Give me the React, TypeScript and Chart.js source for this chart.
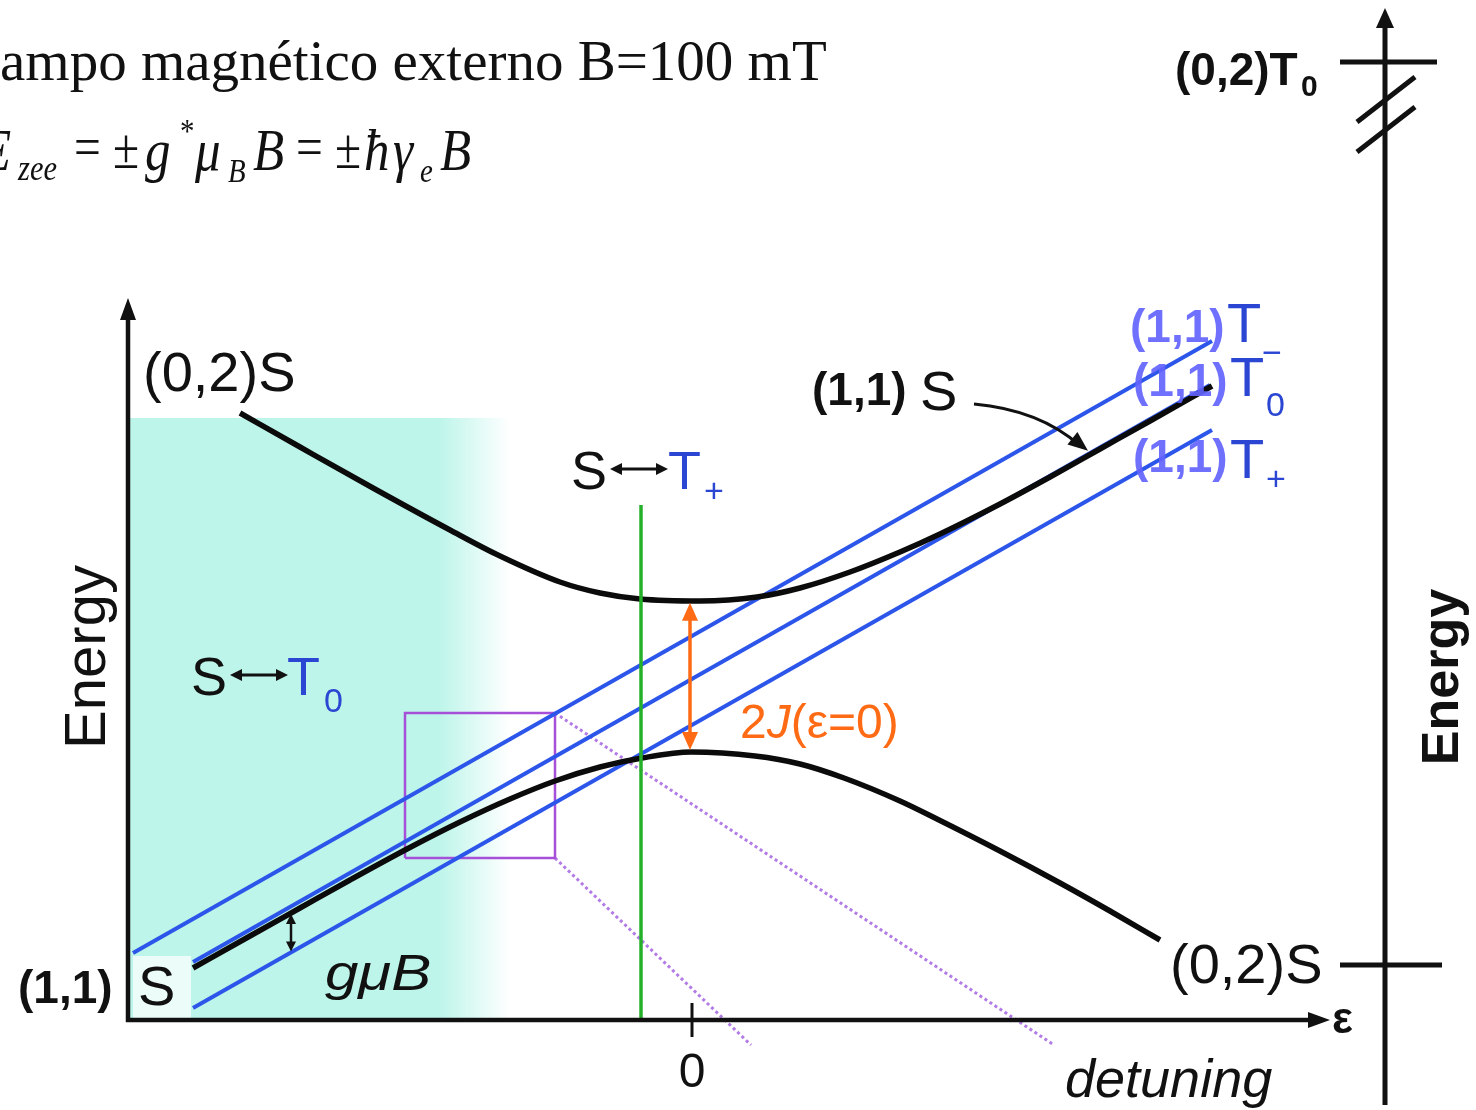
import React, { useEffect, useRef } from "react";
import { Chart, registerables } from "chart.js";

Chart.register(...registerables);

// ---------- data (x = detuning ε, y = energy E, arbitrary units) ----------
const upperBranch: number[][] = [
  [-4.52, 6.07], [-3.92, 5.73], [-3.19, 5.32], [-2.42, 4.90], [-1.92, 4.64],
  [-1.32, 4.38], [-0.92, 4.27], [-0.52, 4.21], [0.08, 4.19], [0.65, 4.23],
  [1.08, 4.32], [1.58, 4.48], [2.08, 4.68], [2.48, 4.86], [3.08, 5.16],
  [3.58, 5.43], [4.08, 5.71], [4.58, 5.99], [5.20, 6.34],
];
const lowerBranch: number[][] = [
  [-4.99, 0.52], [-4.42, 0.84], [-3.92, 1.12], [-3.42, 1.40], [-2.85, 1.71],
  [-2.32, 1.98], [-1.82, 2.21], [-1.37, 2.39], [-0.92, 2.53], [-0.50, 2.62],
  [-0.01, 2.68], [0.63, 2.64], [1.08, 2.56], [1.52, 2.42], [2.08, 2.19],
  [2.45, 2.01], [3.08, 1.69], [3.68, 1.37], [4.18, 1.09], [4.68, 0.80],
];
const tripletMinus: number[][] = [[-5.59, 0.67], [5.20, 6.79]];
const tripletZero: number[][] = [[-4.99, 0.58], [5.18, 6.35]];
const tripletPlus: number[][] = [[-4.99, 0.12], [5.20, 5.90]];
const stPlusResonance: number[][] = [[-0.51, 0], [-0.51, 5.15]];
const zoomBox: number[][] = [[-2.87, 1.62], [-1.37, 1.62], [-1.37, 3.07], [-2.87, 3.07], [-2.87, 1.62]];
const zoomRayUpper: number[][] = [[-1.37, 3.07], [3.62, -0.25]];
const zoomRayLower: number[][] = [[-1.37, 1.62], [0.59, -0.25]];

const xRange = [-6.92, 7.84];
const yRange = [-0.90, 10.20];
const mainAxisEps = [-5.64, 6.38];
const mainAxisTopE = 7.22;
const shadeEps = [-5.62, -2.52, -1.82];
const shadeTopE = 6.02;
const jEps = -0.02;
const gmuBEps = -4.01;
const labelArrowEps = 3.96;
const rightAxisEps = 6.93;
const rightAxisE = [-0.85, 10.12];
const rightLevelE = [9.58, 0.55];
const rightLevelEps: number[][] = [[6.48, 7.45], [6.48, 7.50]];
const breakMarks: number[][][] = [
  [[6.65, 8.98], [7.23, 9.43]],
  [[6.65, 8.68], [7.23, 9.13]],
];
const tickValues = [0];

// ---------- styles ----------
const SANS = '"Liberation Sans", Arial, Helvetica, sans-serif';
const SERIF = '"Liberation Serif", "Times New Roman", serif';
const INK = "#111111";
const TBLUE = "#2a46d2";
const PERI = "rgba(100,100,255,0.92)";
const ORANGE = "#ff6a14";
const LINEBLUE = "#2c55ea";
const GREEN = "#25b02a";
const PURPLE = "#a64fd8";
const CYAN = "190,245,234";

const pts = (a: number[][]) => a.map(([x, y]) => ({ x, y }));

function interp(arr: number[][], e: number) {
  for (let i = 0; i < arr.length - 1; i++) {
    const [x0, y0] = arr[i];
    const [x1, y1] = arr[i + 1];
    if (e >= x0 && e <= x1) return y0 + ((y1 - y0) * (e - x0)) / (x1 - x0);
  }
  return e < arr[0][0] ? arr[0][1] : arr[arr.length - 1][1];
}

function seg(ctx: CanvasRenderingContext2D, x1: number, y1: number, x2: number, y2: number, w: number, c: string) {
  ctx.beginPath();
  ctx.moveTo(x1, y1);
  ctx.lineTo(x2, y2);
  ctx.lineWidth = w;
  ctx.strokeStyle = c;
  ctx.stroke();
}

function head(ctx: CanvasRenderingContext2D, tx: number, ty: number, fx: number, fy: number, len: number, half: number, c: string) {
  const a = Math.atan2(ty - fy, tx - fx);
  const bx = tx - len * Math.cos(a);
  const by = ty - len * Math.sin(a);
  ctx.beginPath();
  ctx.moveTo(tx, ty);
  ctx.lineTo(bx + half * Math.sin(a), by - half * Math.cos(a));
  ctx.lineTo(bx - half * Math.sin(a), by + half * Math.cos(a));
  ctx.closePath();
  ctx.fillStyle = c;
  ctx.fill();
}

function dbl(ctx: CanvasRenderingContext2D, x1: number, y1: number, x2: number, y2: number, w: number, len: number, half: number, c: string) {
  const a = Math.atan2(y2 - y1, x2 - x1);
  seg(ctx, x1 + (len - 1) * Math.cos(a), y1 + (len - 1) * Math.sin(a), x2 - (len - 1) * Math.cos(a), y2 - (len - 1) * Math.sin(a), w, c);
  head(ctx, x1, y1, x2, y2, len, half, c);
  head(ctx, x2, y2, x1, y1, len, half, c);
}

function txt(ctx: CanvasRenderingContext2D, s: string, x: number, y: number, font: string, color: string, align: CanvasTextAlign = "left", sx = 1) {
  ctx.save();
  ctx.font = font;
  ctx.fillStyle = color;
  ctx.textAlign = align;
  ctx.textBaseline = "alphabetic";
  ctx.translate(x, y);
  ctx.scale(sx, 1);
  ctx.fillText(s, 0, 0);
  ctx.restore();
}

function vtxt(ctx: CanvasRenderingContext2D, s: string, x: number, y: number, font: string, color: string) {
  ctx.save();
  ctx.translate(x, y);
  ctx.rotate(-Math.PI / 2);
  txt(ctx, s, 0, 0, font, color, "center");
  ctx.restore();
}

const diagramPlugin = {
  id: "diagram",
  beforeDatasetsDraw(chart: any) {
    const ctx: CanvasRenderingContext2D = chart.ctx;
    const X = (v: number) => chart.scales.x.getPixelForValue(v);
    const Y = (v: number) => chart.scales.y.getPixelForValue(v);
    ctx.save();
    const x0 = X(shadeEps[0]);
    const x1 = X(shadeEps[1]);
    const xf = X(shadeEps[2]);
    const g = ctx.createLinearGradient(x0, 0, xf, 0);
    g.addColorStop(0, `rgb(${CYAN})`);
    g.addColorStop((x1 - x0) / (xf - x0), `rgb(${CYAN})`);
    g.addColorStop(1, `rgba(${CYAN},0)`);
    ctx.fillStyle = g;
    ctx.fillRect(x0, Y(shadeTopE), xf - x0, Y(0) - Y(shadeTopE));
    // pale patch behind the lower-left "S"
    ctx.fillStyle = "rgba(255,255,255,0.7)";
    ctx.fillRect(x0 + 3, Y(0) - 64, 58, 62);
    ctx.restore();
  },
  afterDatasetsDraw(chart: any) {
    const ctx: CanvasRenderingContext2D = chart.ctx;
    const X = (v: number) => chart.scales.x.getPixelForValue(v);
    const Y = (v: number) => chart.scales.y.getPixelForValue(v);
    ctx.save();
    ctx.lineCap = "butt";

    // main axes
    const ax = X(mainAxisEps[0]);
    const ay = Y(0);
    const axR = X(mainAxisEps[1]);
    const ayT = Y(mainAxisTopE);
    seg(ctx, ax, ay + 2, ax, ayT + 18, 4.5, INK);
    head(ctx, ax, ayT, ax, ay, 22, 8, INK);
    seg(ctx, ax - 2, ay, axR - 18, ay, 4.5, INK);
    head(ctx, axR, ay, ax, ay, 22, 8, INK);
    tickValues.forEach((t) => {
      seg(ctx, X(t), ay - 17, X(t), ay + 17, 3, INK);
      txt(ctx, String(t), X(t), ay + 67, `48px ${SANS}`, INK, "center");
    });
    txt(ctx, "ε", axR + 2, ay + 13, `bold 44px ${SANS}`, INK);
    txt(ctx, "detuning", 1065, 1097, `italic 54px ${SANS}`, INK);
    vtxt(ctx, "Energy", 105, 657, `58px ${SANS}`, INK);

    // right-hand energy axis
    const rx = X(rightAxisEps);
    const rTop = Y(rightAxisE[1]);
    seg(ctx, rx, Y(rightAxisE[0]), rx, rTop + 16, 5, INK);
    head(ctx, rx, rTop, rx, Y(0), 20, 9, INK);
    rightLevelE.forEach((e, i) => seg(ctx, X(rightLevelEps[i][0]), Y(e), X(rightLevelEps[i][1]), Y(e), 5, INK));
    breakMarks.forEach(([a, b]) => seg(ctx, X(a[0]), Y(a[1]), X(b[0]), Y(b[1]), 5, INK));
    txt(ctx, "(0,2)T", 1175, 85, `bold 46px ${SANS}`, INK);
    txt(ctx, "0", 1301, 96, `bold 30px ${SANS}`, INK);
    vtxt(ctx, "Energy", 1458, 677, `bold 52px ${SANS}`, INK);

    // 2J(ε=0) arrow between the two branches
    const jx = X(jEps);
    dbl(ctx, jx, Y(interp(upperBranch, jEps)) + 2, jx, Y(interp(lowerBranch, jEps)) - 2, 3.5, 18, 8, ORANGE);
    let cx = 740;
    const jy = 738;
    [["2", `48px ${SANS}`], ["J", `italic 48px ${SANS}`], ["(ε=0)", `48px ${SANS}`]].forEach(([s, f]) => {
      txt(ctx, s, cx, jy, f, ORANGE);
      ctx.font = f;
      cx += ctx.measureText(s).width;
    });

    // gμB arrow between S branch and T+ line
    const gx = X(gmuBEps);
    dbl(ctx, gx, Y(interp(lowerBranch, gmuBEps)) + 1, gx, Y(interp(tripletPlus, gmuBEps)) - 1, 2.5, 10, 5, INK);
    txt(ctx, "gμB", 325, 990, `italic 50px ${SANS}`, INK, "left", 1.2);

    // "(1,1) S" pointer
    const ex = X(labelArrowEps);
    const ey = Y(interp(upperBranch, labelArrowEps)) - 5;
    ctx.beginPath();
    ctx.moveTo(974, 404);
    ctx.quadraticCurveTo(1040, 410, ex - 8, ey - 5);
    ctx.lineWidth = 3;
    ctx.strokeStyle = INK;
    ctx.stroke();
    head(ctx, ex, ey, 1040, 412, 20, 8, INK);

    // state labels
    txt(ctx, "(0,2)S", 143, 391, `56px ${SANS}`, INK);
    txt(ctx, "(0,2)S", 1170, 983, `56px ${SANS}`, INK);
    txt(ctx, "(1,1)", 18, 1003, `bold 46px ${SANS}`, INK);
    txt(ctx, "S", 138, 1005, `56px ${SANS}`, INK);
    txt(ctx, "(1,1)", 812, 405, `bold 46px ${SANS}`, INK);
    txt(ctx, "S", 920, 410, `56px ${SANS}`, INK);

    // S <-> T+ and S <-> T0
    txt(ctx, "S", 571, 489, `54px ${SANS}`, INK);
    dbl(ctx, 610, 469, 668, 469, 3, 12, 6, INK);
    txt(ctx, "T", 668, 489, `54px ${SANS}`, TBLUE);
    txt(ctx, "+", 704, 502, `34px ${SANS}`, TBLUE);
    txt(ctx, "S", 191, 695, `54px ${SANS}`, INK);
    dbl(ctx, 230, 675, 288, 675, 3, 12, 6, INK);
    txt(ctx, "T", 287, 695, `54px ${SANS}`, TBLUE);
    txt(ctx, "0", 324, 712, `34px ${SANS}`, TBLUE);

    // triplet labels
    const tri: [number, string, number][] = [[342, "−", 364], [396, "0", 416], [472, "+", 490]];
    tri.forEach(([by, sub, sy], i) => {
      txt(ctx, "(1,1)", i === 0 ? 1130 : 1133, by, `bold 46px ${SANS}`, PERI);
      txt(ctx, "T", i === 0 ? 1227 : 1230, by + (i === 2 ? 6 : 0), `56px ${SANS}`, TBLUE);
      txt(ctx, sub, i === 0 ? 1262 : 1266, sy, `34px ${SANS}`, TBLUE);
    });

    // header text
    txt(ctx, "ampo magnético externo B=100 mT", 0, 80, `57px ${SERIF}`, INK);
    const eq: [string, number, number, string][] = [
      ["E", -20, 170, `italic 60px ${SERIF}`],
      ["zee", 18, 180, `italic 36px ${SERIF}`],
      ["=", 74, 166, `56px ${SERIF}`],
      ["±", 113, 168, `56px ${SERIF}`],
      ["g", 145, 170, `italic 60px ${SERIF}`],
      ["*", 180, 142, `34px ${SERIF}`],
      ["μ", 195, 170, `italic 60px ${SERIF}`],
      ["B", 228, 182, `italic 34px ${SERIF}`],
      ["B", 253, 170, `italic 60px ${SERIF}`],
      ["=", 296, 166, `56px ${SERIF}`],
      ["±", 335, 168, `56px ${SERIF}`],
      ["ħ", 364, 170, `italic 60px ${SERIF}`],
      ["γ", 393, 170, `italic 60px ${SERIF}`],
      ["e", 420, 182, `italic 34px ${SERIF}`],
      ["B", 440, 170, `italic 60px ${SERIF}`],
    ];
    eq.forEach(([s, x, y, f]) => txt(ctx, s, x, y, f, INK, "left", 0.85));
    ctx.restore();
  },
};

const common = { showLine: true, pointRadius: 0, fill: false, borderCapStyle: "butt" as const };

export default function App() {
  const ref = useRef<HTMLCanvasElement>(null);
  useEffect(() => {
    const canvas = ref.current!;
    const chart = new Chart(canvas, {
      type: "scatter",
      data: {
        datasets: [
          { ...common, data: pts(stPlusResonance), borderColor: GREEN, borderWidth: 3.5, tension: 0 },
          { ...common, data: pts(upperBranch), borderColor: "#0b0b0b", borderWidth: 5.5, cubicInterpolationMode: "monotone" },
          { ...common, data: pts(lowerBranch), borderColor: "#0b0b0b", borderWidth: 5.5, cubicInterpolationMode: "monotone" },
          { ...common, data: pts(tripletMinus), borderColor: LINEBLUE, borderWidth: 4, tension: 0 },
          { ...common, data: pts(tripletZero), borderColor: LINEBLUE, borderWidth: 4, tension: 0 },
          { ...common, data: pts(tripletPlus), borderColor: LINEBLUE, borderWidth: 4, tension: 0 },
          { ...common, data: pts(zoomBox), borderColor: PURPLE, borderWidth: 2.5, tension: 0 },
          { ...common, data: pts(zoomRayUpper), borderColor: "rgba(165,100,225,0.85)", borderWidth: 3, borderDash: [3, 3], tension: 0 },
          { ...common, data: pts(zoomRayLower), borderColor: "rgba(165,100,225,0.85)", borderWidth: 3, borderDash: [3, 3], tension: 0 },
        ] as any,
      },
      options: {
        animation: false,
        responsive: false,
        events: [],
        layout: { padding: 0 },
        scales: {
          x: { type: "linear", min: xRange[0], max: xRange[1], display: false },
          y: { type: "linear", min: yRange[0], max: yRange[1], display: false },
        },
        plugins: { legend: { display: false }, tooltip: { enabled: false } },
      },
      plugins: [diagramPlugin],
    });
    return () => chart.destroy();
  }, []);
  return (
    <canvas
      ref={ref}
      width={1476}
      height={1110}
      style={{ position: "absolute", left: 0, top: 0, width: 1476, height: 1110, background: "#ffffff" }}
    />
  );
}
